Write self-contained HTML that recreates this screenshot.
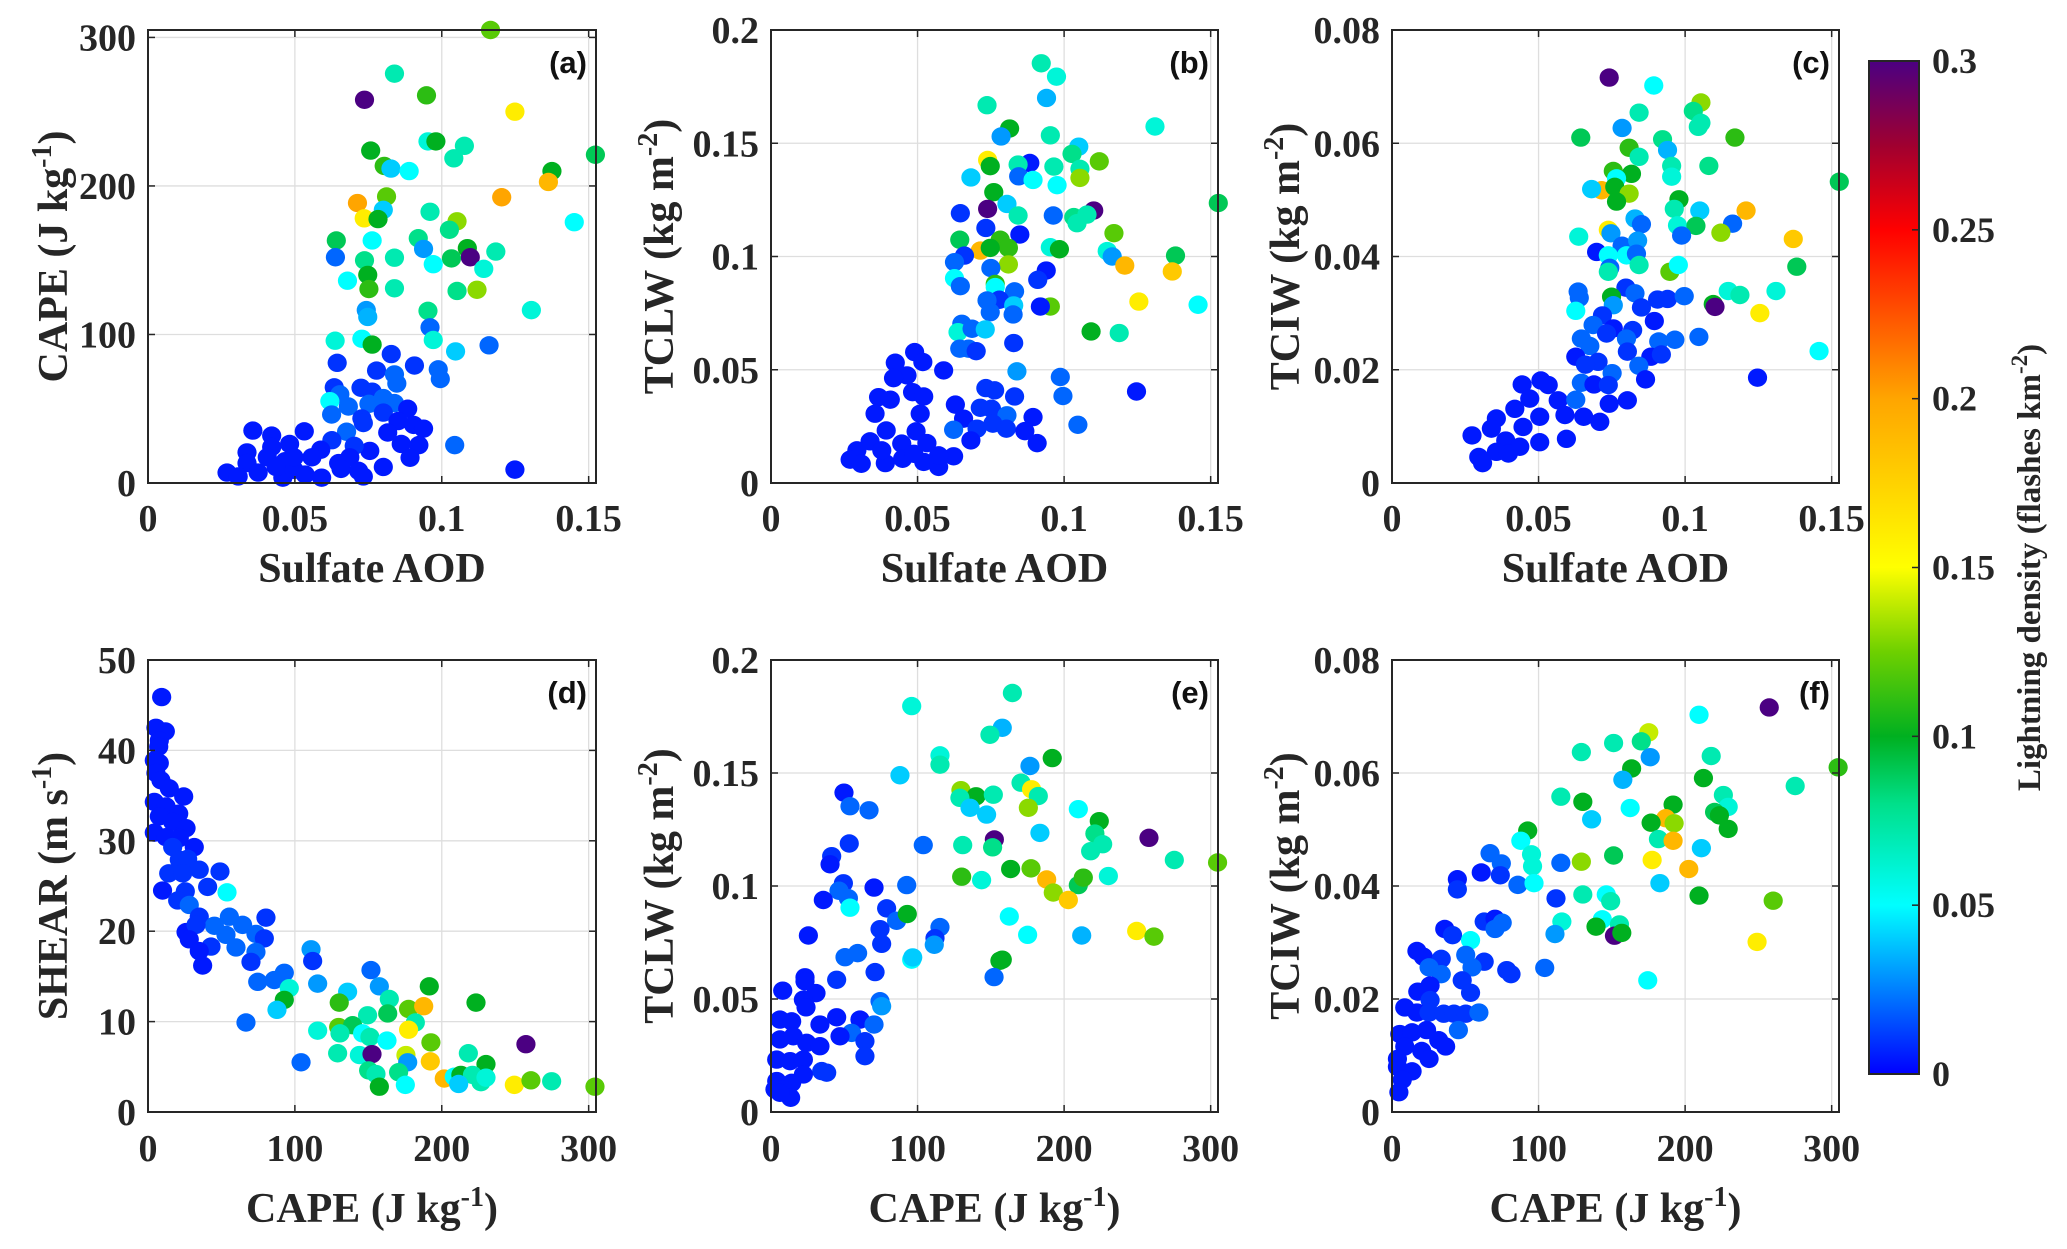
<!DOCTYPE html>
<html><head><meta charset="utf-8"><style>
html,body{margin:0;padding:0;background:#fff;}
svg{display:block;}
</style></head><body>
<svg id="fig" xmlns="http://www.w3.org/2000/svg" width="2067" height="1249" viewBox="0 0 2067 1249">
<defs>
<linearGradient id="cmap" x1="0" y1="1" x2="0" y2="0">
<stop offset="0" stop-color="#0000ff"/>
<stop offset="0.1667" stop-color="#00ffff"/>
<stop offset="0.2667" stop-color="#00e08a"/>
<stop offset="0.3333" stop-color="#00b020"/>
<stop offset="0.4167" stop-color="#6ed000"/>
<stop offset="0.5" stop-color="#ffff00"/>
<stop offset="0.6667" stop-color="#ffa500"/>
<stop offset="0.8333" stop-color="#ff0000"/>
<stop offset="0.9167" stop-color="#a00030"/>
<stop offset="1" stop-color="#4b0082"/>
</linearGradient>
</defs>
</svg>
<script>
// ---- data ----
const aX=[0.1166,0.0839,0.0737,0.0948,0.1249,0.0953,0.098,0.1077,0.1041,0.0758,0.1523,0.0804,0.0827,0.0889,0.1375,0.1363,0.1204,0.0713,0.0812,0.0801,0.096,0.0736,0.0783,0.1052,0.1451,0.1026,0.0641,0.0763,0.092,0.0938,0.1087,0.1097,0.0638,0.0737,0.0839,0.1033,0.1184,0.0971,0.1143,0.0679,0.0748,0.0752,0.0839,0.1052,0.112,0.0953,0.1305,0.0743,0.0748,0.096,0.0637,0.0728,0.0763,0.0971,0.1047,0.1161,0.0644,0.0828,0.0907,0.0778,0.0988,0.0995,0.0839,0.0847,0.0634,0.0653,0.0725,0.0763,0.0619,0.0752,0.0801,0.0839,0.0682,0.0625,0.0884,0.0801,0.0728,0.0733,0.0851,0.0676,0.0904,0.0938,0.0816,0.0357,0.0421,0.0532,0.0862,0.0922,0.1044,0.0337,0.0421,0.0482,0.0626,0.0588,0.0755,0.0702,0.0892,0.0337,0.0406,0.0467,0.0558,0.0649,0.0687,0.0801,0.1249,0.0269,0.0307,0.0375,0.0459,0.0497,0.0535,0.0591,0.0657,0.0717,0.0733,0.0436,0.0497];
const aY=[305,275.6,258,261,250,230,230,227,218.6,223.8,221,213.5,211.7,210,210,202.7,192.4,188.5,192.9,183.9,182.6,178.2,177.7,176.2,175.6,170.5,163.3,163.3,164.8,157.6,158.1,152,152,149.9,151.7,151.2,155.8,147.3,144.2,136.2,140.1,130.6,131.1,129.3,130.1,115.9,116.4,116.4,111.8,104.8,95.8,97.1,93.2,96.3,88.6,92.7,80.9,86.8,79.1,75.7,76.5,70,73.1,67,64.4,59.7,64.1,61.5,55.1,53.3,57.2,53.8,51.5,46.1,50,47.4,43.5,40.4,41.7,34.5,39.1,36.6,34,35.3,31.9,34.8,26.3,25.5,25.5,20.6,24.2,26.3,28.8,22.4,21.6,25,17,13.4,17.3,14.7,17.3,13.4,17.3,10.8,9,7,4.4,7,3.6,8.8,5.7,3.6,9.5,8.2,4.4,10.8,17.3];
const aC=[0.12,0.07,0.3,0.11,0.16,0.06,0.1,0.07,0.07,0.1,0.09,0.11,0.04,0.05,0.1,0.19,0.2,0.2,0.12,0.04,0.07,0.16,0.1,0.13,0.05,0.08,0.09,0.05,0.08,0.03,0.1,0.3,0.02,0.08,0.07,0.09,0.07,0.05,0.06,0.05,0.1,0.11,0.07,0.08,0.13,0.08,0.06,0.03,0.035,0.02,0.06,0.05,0.1,0.06,0.04,0.02,0.01,0.01,0.01,0.01,0.02,0.02,0.02,0.02,0.01,0.02,0.01,0.01,0.05,0.02,0.02,0.02,0.02,0.02,0.005,0.01,0.01,0.01,0.005,0.02,0.005,0.005,0.005,0.005,0.005,0.005,0.005,0.005,0.02,0.005,0.005,0.005,0.01,0.005,0.005,0.01,0.005,0.005,0.005,0.005,0.005,0.005,0.005,0.005,0.005,0.005,0.005,0.005,0.005,0.005,0.005,0.005,0.005,0.005,0.005,0.005,0.005];

const bX=[0.0922,0.0974,0.094,0.0737,0.131,0.0814,0.0785,0.0953,0.105,0.1027,0.112,0.0739,0.0748,0.0883,0.0843,0.0965,0.1054,0.1054,0.0682,0.0845,0.0894,0.0976,0.076,0.0805,0.0739,0.0646,0.1101,0.1033,0.1078,0.1044,0.0843,0.0963,0.0733,0.0849,0.117,0.0644,0.0714,0.0782,0.081,0.0748,0.066,0.0626,0.0953,0.0984,0.1147,0.1164,0.138,0.1207,0.1369,0.081,0.075,0.0939,0.091,0.0626,0.0646,0.0765,0.0765,0.0831,0.0779,0.0737,0.0953,0.0919,0.1255,0.1457,0.0828,0.0748,0.0826,0.0651,0.0638,0.0686,0.0731,0.1092,0.1188,0.0644,0.0674,0.07,0.0828,0.049,0.0518,0.0424,0.0589,0.0839,0.0987,0.0464,0.0418,0.0733,0.0763,0.0831,0.0996,0.1247,0.0483,0.0521,0.0367,0.0407,0.0355,0.0509,0.0629,0.0714,0.0752,0.0805,0.0894,0.0657,0.0623,0.0703,0.0757,0.0803,0.0866,0.0908,0.1047,0.0393,0.0495,0.0682,0.0532,0.0338,0.0293,0.027,0.0308,0.039,0.0378,0.0446,0.0449,0.0521,0.0572,0.0623,0.0572,0.0487,0.1526];
const bY=[0.1853,0.1794,0.170,0.1668,0.1574,0.1565,0.153,0.1535,0.1485,0.1453,0.142,0.1426,0.1399,0.1413,0.1406,0.1397,0.1387,0.1347,0.1349,0.1354,0.1338,0.1315,0.1284,0.1232,0.121,0.1191,0.1203,0.1174,0.1185,0.1147,0.1181,0.1181,0.1126,0.1097,0.1103,0.1074,0.1026,0.1074,0.1038,0.1038,0.1004,0.0975,0.1041,0.1032,0.1024,0.1,0.1004,0.096,0.0934,0.0965,0.0949,0.0938,0.0897,0.0904,0.0869,0.0879,0.0865,0.0846,0.0809,0.0806,0.0779,0.0779,0.0801,0.0787,0.0784,0.0754,0.0744,0.0703,0.0666,0.0681,0.0678,0.0669,0.0662,0.0593,0.0593,0.0582,0.0618,0.0578,0.0534,0.0531,0.0497,0.0493,0.0468,0.0475,0.0463,0.0419,0.0409,0.0382,0.0384,0.0404,0.0401,0.0382,0.0379,0.0368,0.0306,0.0306,0.0346,0.0332,0.0328,0.0299,0.0291,0.0284,0.0235,0.024,0.0262,0.024,0.0229,0.0176,0.0257,0.0232,0.0228,0.0188,0.0176,0.0184,0.0144,0.0103,0.0085,0.0088,0.0144,0.0174,0.0107,0.0093,0.0071,0.0118,0.0122,0.0129,0.1236];
const bC=[0.07,0.06,0.035,0.07,0.06,0.1,0.03,0.07,0.04,0.08,0.12,0.16,0.1,0.005,0.07,0.07,0.07,0.13,0.04,0.02,0.05,0.05,0.1,0.04,0.3,0.01,0.3,0.08,0.07,0.07,0.07,0.02,0.01,0.005,0.12,0.09,0.19,0.11,0.11,0.1,0.01,0.02,0.06,0.1,0.06,0.03,0.09,0.19,0.18,0.13,0.02,0.005,0.01,0.05,0.02,0.11,0.05,0.02,0.01,0.02,0.12,0.005,0.16,0.05,0.04,0.02,0.02,0.02,0.06,0.02,0.04,0.1,0.07,0.02,0.02,0.01,0.01,0.005,0.005,0.005,0.005,0.03,0.02,0.005,0.005,0.01,0.01,0.01,0.02,0.005,0.005,0.005,0.005,0.005,0.005,0.005,0.005,0.01,0.01,0.02,0.005,0.005,0.02,0.01,0.01,0.01,0.005,0.005,0.02,0.005,0.005,0.005,0.005,0.005,0.005,0.005,0.005,0.005,0.005,0.005,0.005,0.005,0.005,0.005,0.005,0.005,0.09];

const cX=[0.0741,0.0893,0.1054,0.1028,0.1054,0.1045,0.0843,0.0785,0.0644,0.117,0.0923,0.094,0.0809,0.0843,0.0954,0.1081,0.0954,0.0755,0.0817,0.0766,0.1526,0.0715,0.0681,0.076,0.0809,0.0766,0.0979,0.0963,0.105,0.1208,0.0829,0.0851,0.0974,0.1037,0.1162,0.0738,0.1122,0.0747,0.0988,0.0637,0.0785,0.0838,0.1369,0.0698,0.0738,0.08,0.0834,0.0743,0.0738,0.0843,0.0948,0.0977,0.1381,0.0798,0.0829,0.0635,0.0639,0.0749,0.0755,0.0851,0.0906,0.094,0.0997,0.1147,0.1187,0.131,0.1096,0.1102,0.0627,0.1255,0.0718,0.0686,0.0755,0.0821,0.0895,0.0646,0.0732,0.08,0.091,0.0965,0.1047,0.0675,0.0803,0.0627,0.0883,0.0919,0.0703,0.066,0.0842,0.1457,0.0751,0.0646,0.0689,0.0738,0.0865,0.1247,0.0444,0.0508,0.0533,0.047,0.0567,0.0627,0.0741,0.0803,0.0419,0.0356,0.0339,0.0447,0.0504,0.059,0.0654,0.0709,0.0273,0.0595,0.0504,0.0388,0.0436,0.0356,0.0397,0.0296,0.0309];
const cY=[0.0716,0.0702,0.0672,0.0657,0.0636,0.0629,0.0654,0.0627,0.061,0.061,0.0607,0.0588,0.0592,0.0576,0.056,0.056,0.0541,0.0551,0.0546,0.0538,0.0532,0.0517,0.0519,0.0523,0.0511,0.0497,0.0501,0.0484,0.0481,0.0481,0.0467,0.0457,0.0455,0.0454,0.0458,0.0447,0.0442,0.0441,0.0437,0.0435,0.0419,0.0428,0.0431,0.0408,0.0402,0.0402,0.0405,0.038,0.0373,0.0385,0.0373,0.0385,0.0382,0.0345,0.0335,0.0338,0.0327,0.0329,0.0314,0.031,0.0324,0.0325,0.033,0.0339,0.0332,0.0339,0.0316,0.0311,0.0304,0.03,0.0296,0.0279,0.0273,0.027,0.0286,0.0255,0.0264,0.0255,0.025,0.0253,0.0258,0.0242,0.0232,0.0223,0.0223,0.0227,0.0214,0.0209,0.0207,0.0233,0.0194,0.0177,0.0174,0.0173,0.0183,0.0186,0.0174,0.0181,0.0173,0.0149,0.0146,0.0147,0.014,0.0146,0.0131,0.0114,0.0096,0.0099,0.0117,0.012,0.0117,0.0108,0.0084,0.0078,0.0072,0.0075,0.0064,0.0055,0.0052,0.0046,0.0035];
const cC=[0.3,0.05,0.13,0.08,0.07,0.07,0.07,0.03,0.09,0.11,0.08,0.035,0.11,0.07,0.07,0.08,0.06,0.11,0.1,0.05,0.09,0.19,0.04,0.1,0.13,0.1,0.1,0.07,0.04,0.19,0.035,0.02,0.06,0.09,0.02,0.16,0.13,0.03,0.02,0.06,0.02,0.03,0.18,0.005,0.05,0.05,0.02,0.02,0.07,0.07,0.12,0.05,0.09,0.01,0.02,0.02,0.02,0.1,0.03,0.01,0.01,0.01,0.02,0.06,0.07,0.06,0.1,0.3,0.05,0.16,0.01,0.02,0.005,0.01,0.005,0.02,0.01,0.02,0.02,0.02,0.02,0.02,0.01,0.005,0.005,0.01,0.01,0.01,0.02,0.05,0.02,0.02,0.005,0.01,0.005,0.005,0.005,0.005,0.005,0.005,0.005,0.02,0.005,0.005,0.005,0.005,0.005,0.005,0.005,0.005,0.005,0.005,0.005,0.005,0.005,0.005,0.005,0.005,0.005,0.005,0.005];

const dX=[9.3,5.4,11.8,7.7,7.3,4.3,7.7,5.4,8.8,14.5,24.3,4.3,12.3,20.9,7.7,16.8,25.9,4.3,12.3,21.3,31.5,16.8,21.3,27,34.9,49,14.1,23.6,40.6,53.8,9.9,25.4,20.2,28.1,80.3,55.4,34.9,64.4,45.2,25.9,32.7,53.1,73.5,79.2,28.1,42.9,59.9,34.9,73.5,111,70.1,112.1,37.2,92.8,74.7,86,96.2,115.5,151.8,157.5,191.5,92.8,223.3,135.9,164.3,177.4,187.7,130.2,163.2,149.5,87.8,66.7,182,177.4,115.5,129.8,139.3,130.7,146.1,151.1,162.7,192.6,257.3,129.1,143.9,152.5,175.6,176.8,192.2,218.1,104.2,150.2,155.2,170.6,230.1,201.7,208.5,213,220.9,226.7,230.1,211.5,157.5,175.2,249.4,260.7,274.8,304.3];
const dY=[45.9,42.5,42.1,41.1,40.4,38.9,38.6,37.5,36.7,35.8,34.9,34.3,33.8,33,32.7,32.1,31.4,30.9,30.4,30.3,29.3,29.3,27.9,28,26.8,26.6,26.4,26.4,24.9,24.3,24.5,24.4,23.4,22.9,21.5,21.6,21.6,20.7,20.6,19.9,20.7,19.6,19.7,19.2,19.1,18.3,18.2,17.8,17.7,18,16.6,16.7,16.2,15.4,14.4,14.6,13.7,14.2,15.7,13.9,13.9,12.4,12.1,13.3,12.5,11.4,11.7,12.1,10.9,10.7,11.3,9.9,9.9,9.1,9,9.4,9.6,8.7,8.7,8.3,7.9,7.7,7.5,6.5,6.3,6.4,6.3,5.5,5.6,6.5,5.5,4.6,4.2,4.4,5.3,3.7,3.9,4.1,4.1,3.3,3.8,3.1,2.8,3,3,3.5,3.4,2.8];
const dC=[0.005,0.005,0.005,0.005,0.005,0.005,0.005,0.005,0.005,0.005,0.005,0.005,0.005,0.005,0.005,0.005,0.005,0.005,0.005,0.005,0.005,0.01,0.01,0.01,0.01,0.01,0.01,0.01,0.01,0.05,0.005,0.01,0.01,0.02,0.01,0.02,0.01,0.02,0.02,0.005,0.01,0.02,0.02,0.01,0.005,0.01,0.02,0.005,0.02,0.03,0.01,0.01,0.005,0.02,0.02,0.02,0.06,0.03,0.02,0.03,0.1,0.1,0.1,0.04,0.07,0.12,0.19,0.11,0.09,0.07,0.04,0.02,0.07,0.16,0.06,0.12,0.09,0.07,0.05,0.07,0.05,0.12,0.3,0.07,0.06,0.3,0.14,0.03,0.18,0.07,0.02,0.08,0.07,0.08,0.1,0.19,0.05,0.1,0.07,0.07,0.06,0.04,0.1,0.05,0.16,0.12,0.07,0.12];

const eX=[164.7,96,157.8,149.4,115.3,115.3,176.7,191.9,88,170.6,177.8,129.6,139.9,128.9,151.7,182.4,135.8,147.1,175.6,209.7,224,49.8,53.9,66.9,53.4,103.9,130.8,152.4,151.2,183.5,221,226.3,218.1,257.9,275.2,304.7,41.4,40.3,130.1,143.7,163.5,177.4,188.1,209.7,213.1,230.2,192.6,202.9,49.4,46.4,52.8,53.9,35.7,70.3,92.6,78.9,85.7,93,74.4,75.5,25.5,115.3,111.9,111.4,162.6,175.1,212,249.5,261.3,50.5,59.1,96,96.7,71,44.8,156.2,157.8,152.2,23.2,23.2,8,30.7,22.1,23.9,74.4,75.5,44.8,60.7,70.3,55,33.4,47.1,64.1,64.1,6.1,14.1,6.1,15.2,24.3,33.4,3.9,13,22.1,34.6,38,22.1,3.9,14.1,2.7,8.4,13.4,6.1];
const eY=[0.1854,0.1796,0.17,0.1669,0.1578,0.1537,0.1531,0.1566,0.149,0.1457,0.1428,0.1424,0.1397,0.139,0.1404,0.1398,0.1346,0.1316,0.1346,0.134,0.1287,0.1413,0.1353,0.1335,0.1188,0.1181,0.1181,0.1206,0.1171,0.1235,0.1232,0.1185,0.1154,0.1213,0.1115,0.1104,0.1132,0.1096,0.1041,0.1026,0.1075,0.1078,0.1029,0.1004,0.1037,0.1044,0.0971,0.0938,0.1012,0.0979,0.0946,0.0904,0.0938,0.0993,0.1004,0.0901,0.0846,0.0876,0.0809,0.0744,0.0781,0.0818,0.0769,0.074,0.0865,0.0784,0.0781,0.0801,0.0776,0.0685,0.0703,0.0674,0.0684,0.0619,0.0585,0.0669,0.0674,0.0597,0.0596,0.0578,0.0537,0.0526,0.0497,0.0463,0.049,0.0468,0.0419,0.0409,0.0387,0.035,0.0387,0.0335,0.0313,0.0247,0.0409,0.0401,0.0321,0.0335,0.0306,0.0291,0.0232,0.0225,0.0232,0.0181,0.0174,0.0166,0.0137,0.0129,0.01,0.01,0.0063,0.0085];
const eC=[0.07,0.06,0.035,0.07,0.06,0.07,0.03,0.1,0.04,0.07,0.16,0.13,0.1,0.07,0.07,0.07,0.04,0.04,0.13,0.05,0.1,0.005,0.02,0.02,0.01,0.02,0.07,0.3,0.08,0.04,0.08,0.07,0.07,0.3,0.07,0.12,0.01,0.005,0.11,0.06,0.1,0.12,0.19,0.09,0.11,0.06,0.13,0.18,0.01,0.02,0.02,0.05,0.005,0.005,0.02,0.01,0.02,0.1,0.01,0.01,0.005,0.02,0.01,0.03,0.05,0.05,0.035,0.16,0.12,0.02,0.02,0.05,0.04,0.01,0.01,0.1,0.1,0.02,0.005,0.005,0.005,0.005,0.005,0.005,0.02,0.03,0.005,0.005,0.02,0.02,0.005,0.005,0.01,0.01,0.005,0.005,0.005,0.005,0.005,0.005,0.005,0.005,0.005,0.01,0.01,0.005,0.005,0.005,0.005,0.005,0.005,0.005];

const fX=[257.4,209.5,175.2,151.2,170.1,129.2,176.2,217.8,163.5,304.4,212.5,157.5,275.1,115.2,226.1,229.4,130.2,162.5,191.8,136.2,220.1,223.4,186.8,176.8,192.5,229.4,92.6,87.9,181.8,191.8,95.2,95.9,151.2,211.1,66.9,74.6,73.9,60.9,115.2,129.2,177.5,202.5,85.9,96.9,182.8,44.6,44.6,111.9,130.2,146.2,149.2,209.5,260.1,115.9,143.5,155.2,139.2,151.8,156.8,111.2,62.9,70.3,75.2,70.3,36,41.3,53.6,249.1,17,21.3,33.6,50.3,62.9,54.6,78.3,81.2,104.2,174.5,33.6,25.3,47.9,26,17.6,53.6,26,8.7,17,25.3,35.3,42.3,50.3,59.3,45.3,5.3,13.7,23.6,31.9,36.6,8.7,20.3,25.3,3.7,13.7,7,4.7,3.7];
const fY=[0.0716,0.0703,0.0672,0.0653,0.0656,0.0637,0.0628,0.063,0.0608,0.061,0.0591,0.0588,0.0577,0.0558,0.0561,0.054,0.0549,0.0538,0.0544,0.0518,0.0531,0.0525,0.052,0.0512,0.0511,0.0501,0.0498,0.048,0.0483,0.048,0.0456,0.0435,0.0454,0.0467,0.0458,0.044,0.0419,0.0424,0.0441,0.0443,0.0446,0.043,0.0402,0.0405,0.0405,0.0412,0.0394,0.0378,0.0385,0.0385,0.0373,0.0383,0.0374,0.0337,0.0341,0.0332,0.0328,0.0312,0.0317,0.0315,0.0337,0.0342,0.0335,0.0324,0.0324,0.0313,0.0304,0.0301,0.0285,0.0275,0.0271,0.0278,0.0266,0.0256,0.0251,0.0244,0.0255,0.0233,0.0244,0.0256,0.0233,0.0224,0.0213,0.0211,0.0198,0.0185,0.0176,0.0176,0.0174,0.0174,0.0174,0.0176,0.0145,0.0138,0.0141,0.0145,0.0127,0.0116,0.0116,0.0108,0.0094,0.008,0.0072,0.0057,0.0035,0.0094];
const fC=[0.3,0.05,0.14,0.07,0.08,0.07,0.03,0.07,0.1,0.11,0.1,0.035,0.07,0.07,0.07,0.06,0.1,0.05,0.1,0.04,0.09,0.1,0.19,0.1,0.13,0.1,0.1,0.05,0.07,0.19,0.06,0.06,0.09,0.04,0.02,0.02,0.01,0.005,0.02,0.13,0.16,0.19,0.02,0.05,0.04,0.005,0.01,0.01,0.07,0.05,0.07,0.1,0.12,0.06,0.05,0.07,0.1,0.3,0.1,0.03,0.01,0.005,0.02,0.02,0.005,0.01,0.05,0.16,0.005,0.005,0.01,0.02,0.01,0.02,0.01,0.01,0.02,0.05,0.02,0.02,0.01,0.005,0.005,0.01,0.01,0.005,0.005,0.01,0.01,0.01,0.01,0.02,0.02,0.005,0.005,0.005,0.005,0.005,0.005,0.005,0.005,0.005,0.005,0.005,0.005,0.005];

const cbarTicks=[0,0.05,0.1,0.15,0.2,0.25,0.3];
const aodTicks=[0,0.05,0.1,0.15];
const capeTicks=[0,100,200,300];

// ---- rendering ----
const NS='http://www.w3.org/2000/svg';
const svg=document.getElementById('fig');
function mk(tag,attrs,parent){const e=document.createElementNS(NS,tag);for(const k in attrs)e.setAttribute(k,attrs[k]);(parent||svg).appendChild(e);return e;}
const stops=[[0,[0,0,255]],[0.05,[0,255,255]],[0.08,[0,224,138]],[0.1,[0,176,32]],[0.125,[110,208,0]],[0.15,[255,255,0]],[0.2,[255,165,0]],[0.25,[255,0,0]],[0.275,[160,0,48]],[0.3,[75,0,130]]];
function cmap(v){if(v===undefined||isNaN(v))v=0.005;v=Math.max(0,Math.min(0.3,v));for(let i=1;i<stops.length;i++){if(v<=stops[i][0]){const a=stops[i-1],b=stops[i];const t=(v-a[0])/(b[0]-a[0]);const c=a[1].map((x,j)=>Math.round(x+(b[1][j]-x)*t));return 'rgb('+c.join(',')+')';}}return 'rgb(75,0,130)';}
const SERIF='"Liberation Serif", serif';
const SANS='"Liberation Sans", sans-serif';
const TF=38, AF=42;

function panel(o){
  const g=mk('g',{});
  
  
  const L=o.L,R=o.R,T=o.T,B=o.B;
  const sx=v=>L+(v-o.xmin)/(o.xmax-o.xmin)*(R-L);
  const sy=v=>B-(v-o.ymin)/(o.ymax-o.ymin)*(B-T);
  o.xt.forEach(v=>{if(v>o.xmin){const l=mk('line',{x1:sx(v),x2:sx(v),y1:T,y2:B,stroke:'#dedede','stroke-width':1.3},g);}});
  o.yt.forEach(v=>{if(v>o.ymin){const l=mk('line',{x1:L,x2:R,y1:sy(v),y2:sy(v),stroke:'#dedede','stroke-width':1.3},g);}});
  for(let i=0;i<o.X.length;i++){
    const c=mk('ellipse',{cx:sx(o.X[i]),cy:sy(o.Y[i]),rx:9.6,ry:9.2,fill:cmap(o.C[i])},g);
    
    
  }
  const bx=mk('rect',{x:L,y:T,width:R-L,height:B-T,fill:'none',stroke:'#262626','stroke-width':2},g);
  
  
  o.xt.forEach(v=>{
    mk('line',{x1:sx(v),x2:sx(v),y1:B,y2:B-7,stroke:'#262626','stroke-width':1.5},g);
    mk('line',{x1:sx(v),x2:sx(v),y1:T,y2:T+7,stroke:'#262626','stroke-width':1.5},g);
    const t=mk('text',{x:sx(v),y:o.xtY,'text-anchor':'middle','font-family':SERIF,'font-weight':'bold','font-size':TF,fill:'#262626'},g);
    t.textContent=String(v);
    
    
  });
  o.yt.forEach(v=>{
    mk('line',{x1:L,x2:L+7,y1:sy(v),y2:sy(v),stroke:'#262626','stroke-width':1.5},g);
    mk('line',{x1:R,x2:R-7,y1:sy(v),y2:sy(v),stroke:'#262626','stroke-width':1.5},g);
    const t=mk('text',{x:L-12,y:sy(v)+13,'text-anchor':'end','font-family':SERIF,'font-weight':'bold','font-size':TF,fill:'#262626'},g);
    t.textContent=String(v);
    
    
  });
  const pl=mk('text',{x:R-9,y:T+43,'text-anchor':'end','font-family':SANS,'font-weight':'bold','font-size':31,fill:'#111'},g);
  pl.textContent='('+o.id+')';
  
  
  const xl=mk('text',{x:(L+R)/2,y:o.xlY,'text-anchor':'middle','font-family':SERIF,'font-weight':'bold','font-size':AF,fill:'#262626'},g);
  xl.innerHTML=o.xlab;
  
  
  const cy=(T+B)/2;
  const yl=mk('text',{x:0,y:0,transform:'translate('+o.ylX+','+cy+') rotate(-90)','text-anchor':'middle','font-family':SERIF,'font-weight':'bold','font-size':AF,fill:'#262626'},g);
  yl.innerHTML=o.ylab;
  
  
}
const sup=s=>'<tspan dy="-16" font-size="28">'+s+'</tspan><tspan dy="16">)</tspan>';
const capeLab='CAPE (J kg'+sup('-1');
const aodLab='Sulfate AOD';
const kgLab=(n)=>n+' (kg m'+sup('-2');
const r1={T:30,B:483,xtY:531,xlY:582};
const r2={T:660,B:1112,xtY:1161,xlY:1222};
panel(Object.assign({id:'a',L:148,R:596,xmin:0,xmax:0.1525,ymin:0,ymax:305,X:aX,Y:aY,C:aC,xt:aodTicks,yt:[0,100,200,300],xlab:aodLab,ylab:capeLab,ylX:67},r1));
panel(Object.assign({id:'b',L:771,R:1218,xmin:0,xmax:0.1525,ymin:0,ymax:0.2,X:bX,Y:bY,C:bC,xt:aodTicks,yt:[0,0.05,0.1,0.15,0.2],xlab:aodLab,ylab:kgLab('TCLW'),ylX:673},r1));
panel(Object.assign({id:'c',L:1392,R:1839,xmin:0,xmax:0.1525,ymin:0,ymax:0.08,X:cX,Y:cY,C:cC,xt:aodTicks,yt:[0,0.02,0.04,0.06,0.08],xlab:aodLab,ylab:kgLab('TCIW'),ylX:1299},r1));
panel(Object.assign({id:'d',L:148,R:596,xmin:0,xmax:305,ymin:0,ymax:50,X:dX,Y:dY,C:dC,xt:capeTicks,yt:[0,10,20,30,40,50],xlab:capeLab,ylab:'SHEAR (m s'+sup('-1'),ylX:67},r2));
panel(Object.assign({id:'e',L:771,R:1218,xmin:0,xmax:305,ymin:0,ymax:0.2,X:eX,Y:eY,C:eC,xt:capeTicks,yt:[0,0.05,0.1,0.15,0.2],xlab:capeLab,ylab:kgLab('TCLW'),ylX:673},r2));
panel(Object.assign({id:'f',L:1392,R:1839,xmin:0,xmax:305,ymin:0,ymax:0.08,X:fX,Y:fY,C:fC,xt:capeTicks,yt:[0,0.02,0.04,0.06,0.08],xlab:capeLab,ylab:kgLab('TCIW'),ylX:1299},r2));

// colorbar
const cb=mk('g',{});


const CL=1869,CR=1919,CT=61,CB=1074;
const cs=v=>CB-v/0.3*(CB-CT);
const cr=mk('rect',{x:CL,y:CT,width:CR-CL,height:CB-CT,fill:'url(#cmap)',stroke:'#262626','stroke-width':2},cb);


cbarTicks.forEach(v=>{
  mk('line',{x1:CR,x2:CR-7,y1:cs(v),y2:cs(v),stroke:'#262626','stroke-width':1.5},cb);
  const t=mk('text',{x:CR+13,y:cs(v)+12,'font-family':SERIF,'font-weight':'bold','font-size':36,fill:'#262626'},cb);
  t.textContent=String(v);
  
  
});
const cbl=mk('text',{transform:'translate(2040,'+((CT+CB)/2)+') rotate(-90)','text-anchor':'middle','font-family':SERIF,'font-weight':'bold','font-size':33,fill:'#262626'},cb);
cbl.innerHTML='Lightning density (flashes km<tspan dy="-13" font-size="23">-2</tspan><tspan dy="13">)</tspan>';


</script>
</body></html>
